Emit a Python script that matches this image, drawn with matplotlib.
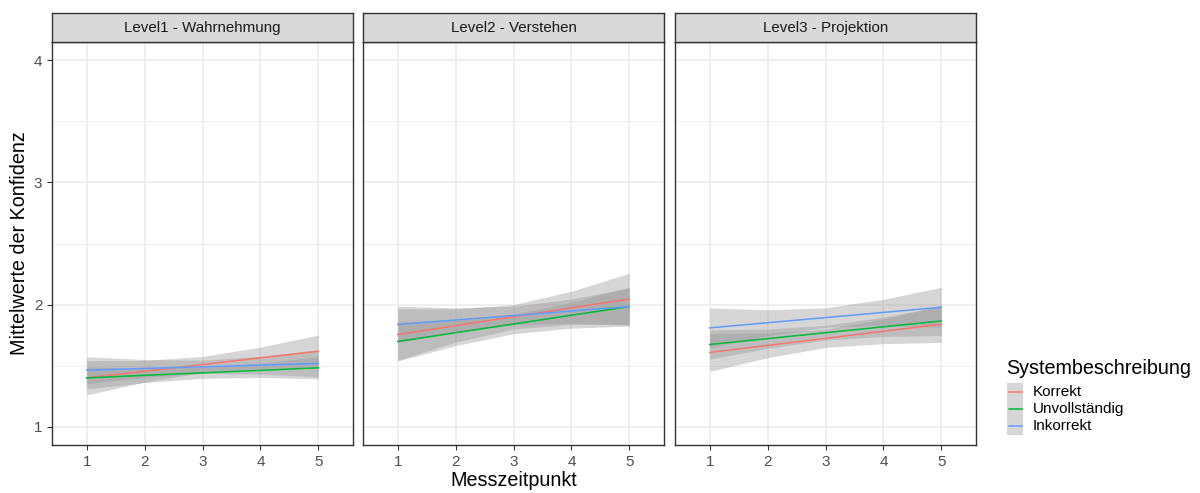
import matplotlib
matplotlib.use("Agg")
import matplotlib.pyplot as plt
from matplotlib.patches import Rectangle
from matplotlib.lines import Line2D

plt.rcParams['font.family'] = ['Liberation Sans', 'DejaVu Sans']

# ==================== Daten ====================
PANELS = ["Level1 - Wahrnehmung", "Level2 - Verstehen", "Level3 - Projektion"]
GROUPS = ["Korrekt", "Unvollständig", "Inkorrekt"]
COLORS = ["#F8766D", "#00BA38", "#619CFF"]

X_LINE = [1, 5]
X_BAND = [1, 2, 3, 4, 5]

# Regressionsgerade (Wert bei x=1 und x=5) je Panel / Gruppe
fit_l1 = {"Korrekt": [1.40, 1.618], "Unvollständig": [1.40, 1.482], "Inkorrekt": [1.463, 1.518]}
fit_l2 = {"Korrekt": [1.755, 2.046], "Unvollständig": [1.698, 1.984], "Inkorrekt": [1.837, 1.984]}
fit_l3 = {"Korrekt": [1.608, 1.839], "Unvollständig": [1.673, 1.866], "Inkorrekt": [1.809, 1.978]}

# Konfidenzband oben / unten bei x = 1..5
upper_l1 = {"Korrekt": [1.54, 1.543, 1.575, 1.652, 1.75],
            "Unvollständig": [1.49, 1.479, 1.486, 1.521, 1.572],
            "Inkorrekt": [1.573, 1.55, 1.545, 1.577, 1.628]}
lower_l1 = {"Korrekt": [1.26, 1.366, 1.443, 1.475, 1.49],
            "Unvollständig": [1.31, 1.361, 1.396, 1.403, 1.392],
            "Inkorrekt": [1.353, 1.404, 1.435, 1.431, 1.408]}

upper_l2 = {"Korrekt": [1.965, 1.964, 2.0, 2.109, 2.256],
            "Unvollständig": [1.858, 1.876, 1.921, 2.018, 2.144],
            "Inkorrekt": [1.987, 1.973, 1.986, 2.046, 2.134]}
lower_l2 = {"Korrekt": [1.545, 1.692, 1.80, 1.837, 1.836],
            "Unvollständig": [1.538, 1.664, 1.761, 1.807, 1.824],
            "Inkorrekt": [1.687, 1.775, 1.835, 1.848, 1.834]}

upper_l3 = {"Korrekt": [1.763, 1.767, 1.799, 1.882, 1.994],
            "Unvollständig": [1.793, 1.80, 1.83, 1.897, 1.986],
            "Inkorrekt": [1.972, 1.958, 1.974, 2.043, 2.141]}
lower_l3 = {"Korrekt": [1.453, 1.565, 1.649, 1.68, 1.69],
            "Unvollständig": [1.553, 1.642, 1.71, 1.739, 1.746],
            "Inkorrekt": [1.646, 1.744, 1.814, 1.829, 1.815]}

FITS = [fit_l1, fit_l2, fit_l3]
UPPERS = [upper_l1, upper_l2, upper_l3]
LOWERS = [lower_l1, lower_l2, lower_l3]

X_TICKS = [1, 2, 3, 4, 5]
Y_TICKS = [1, 2, 3, 4]

# ==================== Layout (Pixel) ====================
W, H = 1200, 493
PANEL_LEFT = [52, 363, 675]
PANEL_W = 301
PANEL_TOP, PANEL_BOTTOM = 42, 445
STRIP_TOP = 13

GRID = "#EBEBEB"
DARK = "#333333"


def fx(px):
    return px / W


def fy(py):
    return 1 - py / H


fig = plt.figure(figsize=(W / 100, H / 100), dpi=100)

for i, name in enumerate(PANELS):
    left = PANEL_LEFT[i]
    ax = fig.add_axes([fx(left), fy(PANEL_BOTTOM), fx(PANEL_W), (PANEL_BOTTOM - PANEL_TOP) / H])
    ax.set_xlim(0.4, 5.6)
    ax.set_ylim(0.85, 4.15)

    # Gitter
    for y in [1.5, 2.5, 3.5]:
        ax.axhline(y, color=GRID, lw=0.6, zorder=0)
    for y in Y_TICKS:
        ax.axhline(y, color=GRID, lw=1.1, zorder=0)
    for x in X_TICKS:
        ax.axvline(x, color=GRID, lw=1.1, zorder=0)

    for g in GROUPS:
        ax.fill_between(X_BAND, LOWERS[i][g], UPPERS[i][g], color="#999999", alpha=0.4,
                        lw=0, zorder=1)
    for g, c in zip(GROUPS, COLORS):
        ax.plot(X_LINE, FITS[i][g], color=c, lw=1.1, zorder=2)

    ax.set_xticks(X_TICKS)
    ax.set_yticks(Y_TICKS)
    ax.tick_params(colors=DARK, length=3.5, width=0.8, labelcolor="#4D4D4D", labelsize=11)
    if i > 0:
        ax.tick_params(axis="y", left=False, labelleft=False)
    for s in ax.spines.values():
        s.set_color(DARK)
        s.set_linewidth(1.0)

    # Facet-Streifen
    sax = fig.add_axes([fx(left), fy(PANEL_TOP), fx(PANEL_W), (PANEL_TOP - STRIP_TOP) / H])
    sax.set_facecolor("#D9D9D9")
    sax.set_xticks([])
    sax.set_yticks([])
    for s in sax.spines.values():
        s.set_color(DARK)
        s.set_linewidth(1.0)
    sax.text(0.5, 0.48, name, ha="center", va="center", fontsize=10.9, color="#1A1A1A",
             transform=sax.transAxes)

fig.text(fx(514), fy(481), "Messzeitpunkt", ha="center", va="center", fontsize=14.2, color="black")
fig.text(fx(20), fy(243), "Mittelwerte der Konfidenz", ha="center", va="center", rotation=90,
         fontsize=14.2, color="black")

# ==================== Legende ====================
lax = fig.add_axes([0, 0, 1, 1])
lax.set_xlim(0, W)
lax.set_ylim(H, 0)
lax.axis("off")
lax.text(1006, 368, "Systembeschreibung", ha="left", va="center", fontsize=14.2, color="black")
key_top = 383
key_h = 17.2
for k, (g, c) in enumerate(zip(GROUPS, COLORS)):
    y0 = key_top + k * key_h
    lax.add_patch(Rectangle((1007, y0), 16, key_h, facecolor="#D6D6D6", edgecolor="none"))
    lax.add_line(Line2D([1008.5, 1021.5], [y0 + key_h / 2] * 2, color=c, lw=1.1))
    lax.text(1033, y0 + key_h / 2, g, ha="left", va="center", fontsize=11, color="black")

fig.savefig("out.png", dpi=100)
